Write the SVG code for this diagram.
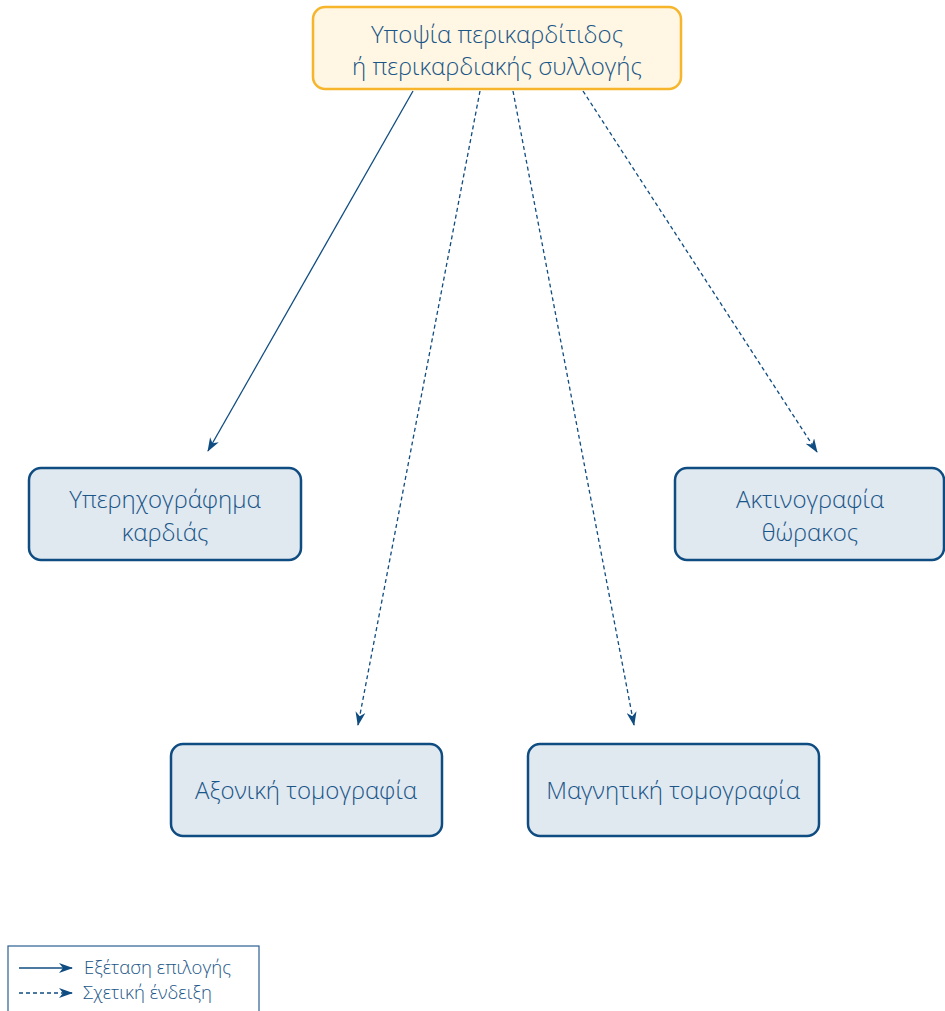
<svg xmlns="http://www.w3.org/2000/svg" width="945" height="1011" viewBox="0 0 945 1011">
<defs>
<style>
.node rect{fill:#e0e8f0;stroke:#0f4c81;stroke-width:2.5}
.top rect{fill:#fff6e3;stroke:#f7b52b;stroke-width:2.5}
text{font-family:"Open Sans","DejaVu Sans",sans-serif;font-weight:300;font-size:24px;fill:#1a5688;text-anchor:middle}
.conn line{stroke:#0f4c81;stroke-width:1.3;fill:none}
.dash{stroke-dasharray:4 3}
.leg{font-size:18.5px;text-anchor:start}
</style>
<marker id="ah" viewBox="0 0 14 10" refX="13" refY="5" markerWidth="14" markerHeight="10" markerUnits="userSpaceOnUse" orient="auto">
<path d="M0,0 L14,5 L0,10 L4,5 Z" fill="#0f4c81"/>
</marker>
</defs>
<rect width="945" height="1011" fill="#fff"/>
<g id="connectors" class="conn">
<line x1="413" y1="91" x2="208" y2="451" marker-end="url(#ah)"/>
<line class="dash" x1="480" y1="91" x2="358" y2="725" marker-end="url(#ah)"/>
<line class="dash" x1="513" y1="91" x2="634" y2="725" marker-end="url(#ah)"/>
<line class="dash" x1="583" y1="91" x2="817" y2="452" marker-end="url(#ah)"/>
</g>
<g id="n-top" class="top">
<rect x="313" y="7" width="368" height="82" rx="12"/>
<text x="497" y="43">Υποψία περικαρδίτιδος</text>
<text x="497" y="75">ή περικαρδιακής συλλογής</text>
</g>
<g id="n-echo" class="node">
<rect x="29" y="468" width="272" height="92" rx="12"/>
<text x="165" y="508">Υπερηχογράφημα</text>
<text x="165" y="541">καρδιάς</text>
</g>
<g id="n-xray" class="node">
<rect x="675" y="468" width="269" height="92" rx="12"/>
<text x="810" y="508">Ακτινογραφία</text>
<text x="810" y="541">θώρακος</text>
</g>
<g id="n-ct" class="node">
<rect x="171" y="744" width="271" height="92" rx="12"/>
<text x="306" y="799">Αξονική τομογραφία</text>
</g>
<g id="n-mri" class="node">
<rect x="528" y="744" width="291" height="92" rx="12"/>
<text x="673" y="799">Μαγνητική τομογραφία</text>
</g>
<g id="legend">
<rect x="8" y="946" width="251" height="80" fill="none" stroke="#2c5f8f" stroke-width="1.2"/>
<g class="conn">
<line x1="19" y1="968" x2="72" y2="968" marker-end="url(#ah)"/>
<line class="dash" x1="19" y1="993" x2="72" y2="993" marker-end="url(#ah)"/>
</g>
<text class="leg" x="84" y="974">Εξέταση επιλογής</text>
<text class="leg" x="83" y="999">Σχετική ένδειξη</text>
</g>
</svg>
